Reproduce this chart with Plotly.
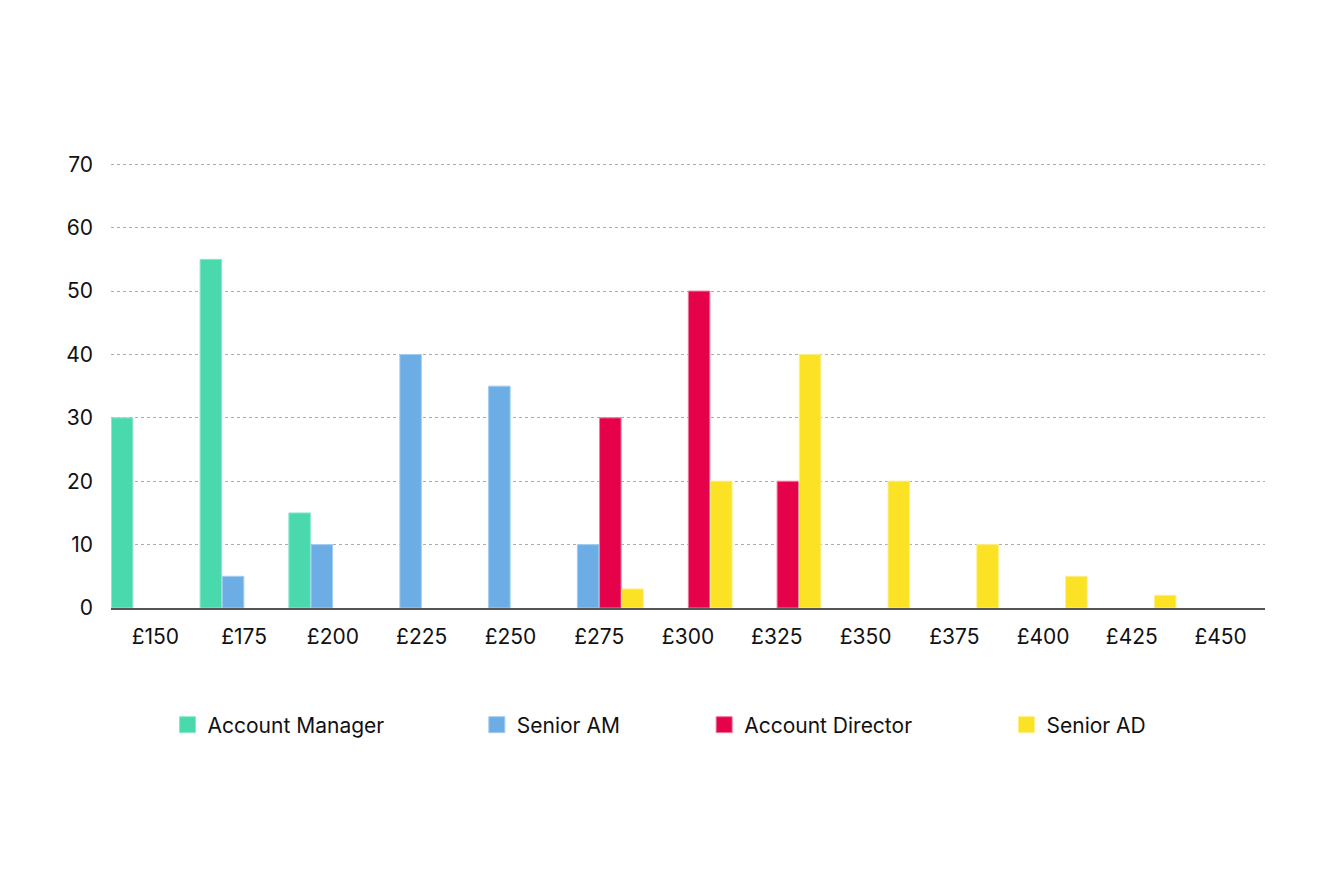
import plotly.graph_objects as go

categories = ["£150", "£175", "£200", "£225", "£250", "£275", "£300", "£325", "£350", "£375", "£400", "£425", "£450"]
account_manager = [30, 55, 15, 0, 0, 0, 0, 0, 0, 0, 0, 0, 0]
senior_am = [0, 5, 10, 40, 35, 10, 0, 0, 0, 0, 0, 0, 0]
account_director = [0, 0, 0, 0, 0, 30, 50, 20, 0, 0, 0, 0, 0]
senior_ad = [0, 0, 0, 0, 0, 3, 20, 40, 20, 10, 5, 2, 0]
y_ticks = [0, 10, 20, 30, 40, 50, 60, 70]

series = [
    ("Account Manager", account_manager, "#49D9AD", "#8BE8CB"),
    ("Senior AM", senior_am, "#6DADE5", "#A3CCF0"),
    ("Account Director", account_director, "#E5024A", "#F07A9E"),
    ("Senior AD", senior_ad, "#FCE225", "#FDEE82"),
]
legend_x = [0.049, 0.317, 0.514, 0.776]

FONT = "Inter"
FS = 21
fig = go.Figure()
for i, (name, vals, col, edge) in enumerate(series):
    fig.add_trace(go.Bar(
        x=categories, y=[v if v != 0 else None for v in vals], name=name, showlegend=False,
        marker=dict(color=col, line=dict(color=edge, width=1)),
        hoverinfo="x+y+name",
    ))
for i, (name, vals, col, edge) in enumerate(series):
    lg = "legend" if i == 0 else f"legend{i+1}"
    fig.add_trace(go.Scatter(
        x=[None], y=[None], mode="markers", name=name, legend=lg,
        marker=dict(symbol="square", size=22, color=col, line=dict(color=edge, width=1)),
    ))

legend_common = dict(orientation="h", yanchor="middle", xanchor="left", y=-0.263,
                     font=dict(family=FONT, size=FS, color="#111111"),
                     bgcolor="rgba(0,0,0,0)", itemsizing="trace")
layout_legends = {}
for i in range(4):
    key = "legend" if i == 0 else f"legend{i+1}"
    layout_legends[key] = dict(legend_common, x=legend_x[i])

fig.update_layout(
    width=1330, height=875,
    margin=dict(l=103, r=73, t=155, b=275),
    plot_bgcolor="white", paper_bgcolor="white",
    barmode="group", bargap=0, bargroupgap=0.03,
    font=dict(family=FONT, size=FS, color="#111111"),
    xaxis=dict(type="category", showgrid=False, ticks="", ticklabelstandoff=9,
               showline=True, linecolor="#555555", linewidth=1.5,
               tickfont=dict(family=FONT, size=FS, color="#111111")),
    yaxis=dict(range=[0, 70.2], tickvals=y_ticks, showgrid=True, gridcolor="#ababab",
               griddash="dot", gridwidth=1, zeroline=False, showline=False, ticks="",
               ticklabelstandoff=17,
               tickfont=dict(family=FONT, size=FS, color="#111111")),
    **layout_legends,
)

fig.write_html("out.html")
